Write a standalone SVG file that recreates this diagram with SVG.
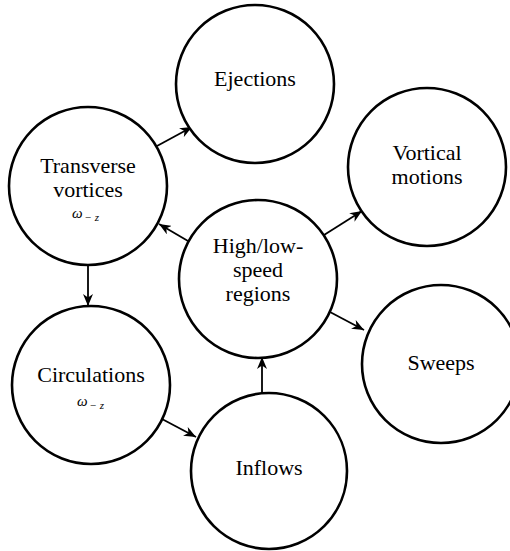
<svg xmlns="http://www.w3.org/2000/svg" width="510" height="551" viewBox="0 0 510 551">
<style>
.node{fill:#fff;stroke:#000;stroke-width:2.6}
.lbl{font-family:"Liberation Serif","Times New Roman",serif;font-size:22px;fill:#000;text-anchor:middle}
.om{font-family:"Liberation Serif","Times New Roman",serif;font-size:15px;font-style:italic;fill:#000}
.sub{font-family:"Liberation Serif","Times New Roman",serif;font-size:11px;font-style:italic;fill:#000}
.con{stroke:#000;stroke-width:1.8;fill:none;marker-end:url(#ah)}
</style>
<defs>
<marker id="ah" markerUnits="userSpaceOnUse" markerWidth="14" markerHeight="10" refX="12" refY="5" orient="auto">
<path d="M0,0 L12,5 L0,10 L3.5,5 z" fill="#000"/>
</marker>
</defs>
<rect width="510" height="551" fill="#fff"/>
<g id="connectors">
<line class="con" x1="157" y1="146" x2="192" y2="127"/>
<line class="con" x1="188" y1="241" x2="159" y2="224"/>
<line class="con" x1="324" y1="235" x2="362" y2="211"/>
<line class="con" x1="330" y1="312" x2="364" y2="330"/>
<line class="con" x1="88" y1="265" x2="88" y2="306"/>
<line class="con" x1="162" y1="419" x2="196" y2="437"/>
<line class="con" x1="262" y1="393" x2="262" y2="357"/>
</g>
<g id="ejections">
<circle class="node" cx="255" cy="84" r="79"/>
<text class="lbl" x="255" y="86">Ejections</text>
</g>
<g id="transverse">
<circle class="node" cx="88" cy="186" r="79"/>
<text class="lbl" x="88" y="173">Transverse</text>
<text class="lbl" x="88" y="197">vortices</text>
<text x="72" y="218"><tspan class="om">ω</tspan><tspan class="sub" dx="2" dy="3">− z</tspan></text>
</g>
<g id="highlow">
<circle class="node" cx="258" cy="279" r="79"/>
<text class="lbl" x="258" y="253">High/low-</text>
<text class="lbl" x="258" y="277">speed</text>
<text class="lbl" x="258" y="301">regions</text>
</g>
<g id="vortical">
<circle class="node" cx="427" cy="167" r="79"/>
<text class="lbl" x="427" y="160">Vortical</text>
<text class="lbl" x="427" y="184">motions</text>
</g>
<g id="sweeps">
<circle class="node" cx="441" cy="364" r="79"/>
<text class="lbl" x="441" y="370">Sweeps</text>
</g>
<g id="circulations">
<circle class="node" cx="91" cy="385" r="79"/>
<text class="lbl" x="91" y="382">Circulations</text>
<text x="77" y="406"><tspan class="om">ω</tspan><tspan class="sub" dx="2" dy="3">− z</tspan></text>
</g>
<g id="inflows">
<circle class="node" cx="269" cy="471" r="78"/>
<text class="lbl" x="269" y="475">Inflows</text>
</g>
</svg>
